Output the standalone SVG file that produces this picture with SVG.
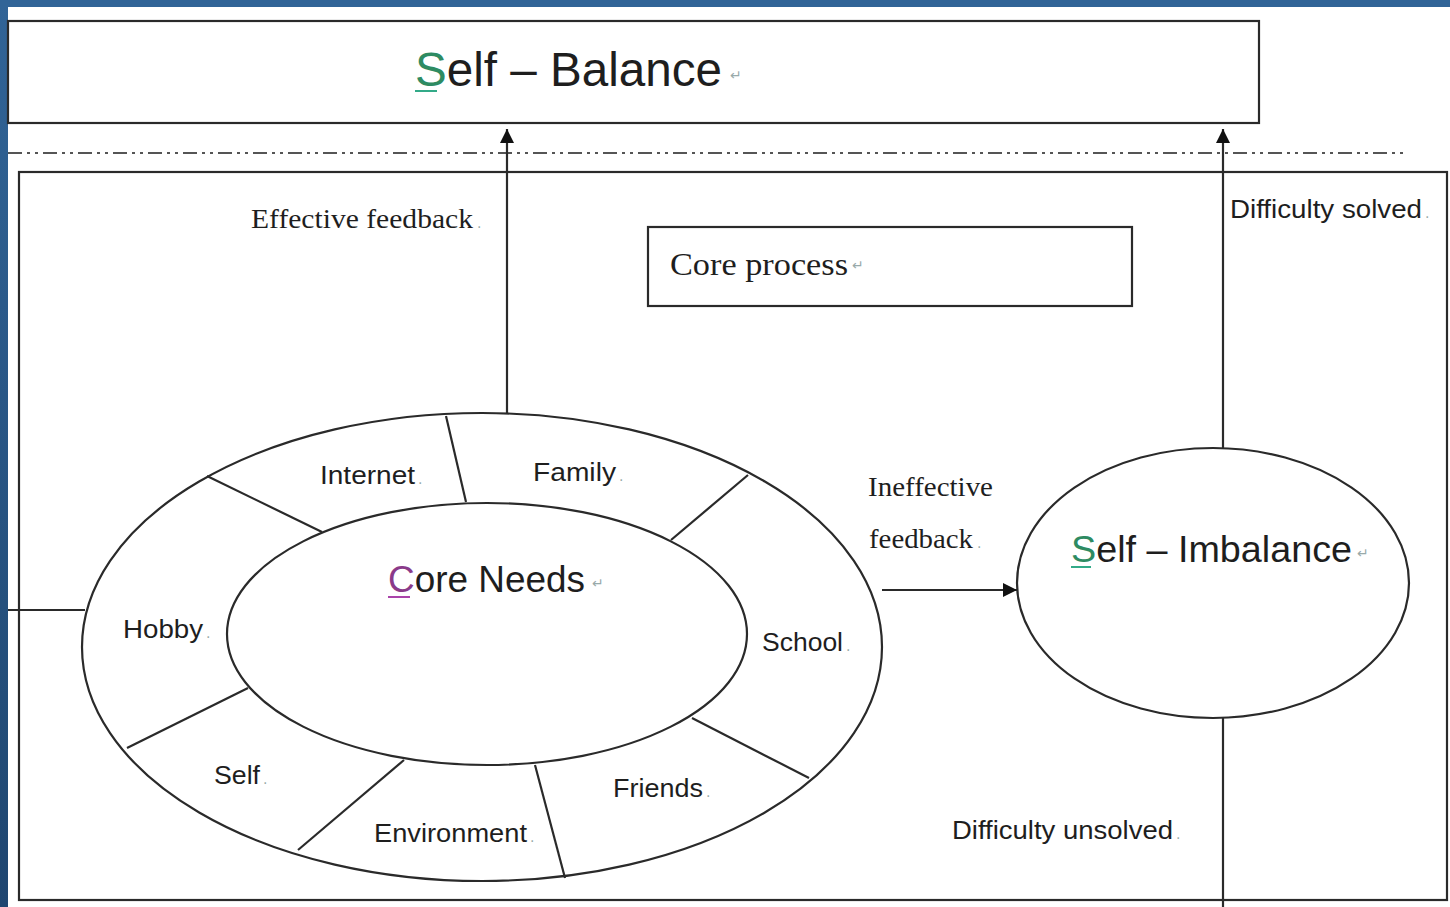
<svg xmlns="http://www.w3.org/2000/svg" width="1450" height="907" viewBox="0 0 1450 907">
<defs>
<linearGradient id="bg" x1="0" y1="0" x2="0" y2="1">
<stop offset="0" stop-color="#316497"/>
<stop offset="1" stop-color="#1f4670"/>
</linearGradient>
<marker id="ah" viewBox="0 0 10 10" refX="10" refY="5" markerWidth="14" markerHeight="14" markerUnits="userSpaceOnUse" orient="auto">
<path d="M0,0 L10,5 L0,10 z" fill="#111"/>
</marker>
<style>
.ln{fill:none;stroke:#2a2a2a;stroke-width:2.2}
.sh{fill:#fff;stroke:#2a2a2a;stroke-width:2.2}
.sans{font-family:"Liberation Sans","DejaVu Sans",sans-serif;fill:#1e1e1e}
.serif{font-family:"Liberation Serif","DejaVu Serif",serif;fill:#1e1e1e}
.mk{font-family:"DejaVu Sans",sans-serif;fill:#9aa;font-size:14px}
.lab{font-size:26px}
</style>
</defs>
<rect x="0" y="0" width="1450" height="907" fill="url(#bg)"/>
<rect x="0" y="0" width="1450" height="7" fill="#316497"/>
<rect x="8" y="7" width="1442" height="900" fill="#fff"/>

<g id="self-balance">
<rect class="sh" x="8" y="21" width="1251" height="102"/>
<text class="sans" x="415" y="86" font-size="47.5" textLength="307" lengthAdjust="spacingAndGlyphs"><tspan fill="#2e8b62">S</tspan>elf – Balance</text>
<rect x="415" y="90" width="22" height="2" fill="#3a8"/>
<text class="mk" x="730" y="80">↵</text>
</g>

<g id="divider">
<line x1="8" y1="153" x2="1405" y2="153" stroke="#555" stroke-width="2" stroke-dasharray="14 5 3 5 3 5"/>
</g>

<g id="core-process-frame">
<rect class="ln" x="19" y="172" width="1428" height="728"/>
</g>

<g id="core-process">
<rect class="sh" x="648" y="227" width="484" height="79"/>
<text class="serif" x="670" y="275" font-size="32" textLength="178" lengthAdjust="spacingAndGlyphs">Core process</text>
<text class="mk" x="852" y="270">↵</text>
</g>

<g id="core-needs">
<ellipse class="sh" cx="482" cy="647" rx="400" ry="234"/>
<ellipse class="sh" cx="487" cy="634" rx="260" ry="131"/>
<line class="ln" x1="446" y1="416" x2="466" y2="502"/>
<line class="ln" x1="748" y1="475" x2="671" y2="540"/>
<line class="ln" x1="692" y1="718" x2="809" y2="778"/>
<line class="ln" x1="535" y1="765" x2="565" y2="878"/>
<line class="ln" x1="404" y1="760" x2="298" y2="850"/>
<line class="ln" x1="248" y1="688" x2="127" y2="748"/>
<line class="ln" x1="207" y1="476" x2="322" y2="532"/>
<text class="sans" x="388" y="592" font-size="37" textLength="197" lengthAdjust="spacingAndGlyphs"><tspan fill="#8a3a8a">C</tspan>ore Needs</text>
<rect x="388" y="596" width="22" height="2" fill="#a4a"/>
<text class="mk" x="592" y="588">↵</text>
<g class="sans lab">
<text x="320" y="484" textLength="95" lengthAdjust="spacingAndGlyphs">Internet</text>
<text x="533" y="481" textLength="83" lengthAdjust="spacingAndGlyphs">Family</text>
<text x="123" y="638" textLength="80" lengthAdjust="spacingAndGlyphs">Hobby</text>
<text x="762" y="651" textLength="81" lengthAdjust="spacingAndGlyphs">School</text>
<text x="214" y="784" textLength="46" lengthAdjust="spacingAndGlyphs">Self</text>
<text x="613" y="797" textLength="90" lengthAdjust="spacingAndGlyphs">Friends</text>
<text x="374" y="842" textLength="153" lengthAdjust="spacingAndGlyphs">Environment</text>
</g>
<g class="mk" font-size="10">
<text x="418" y="484">.</text>
<text x="619" y="481">.</text>
<text x="206" y="638">.</text>
<text x="846" y="651">.</text>
<text x="263" y="784">.</text>
<text x="706" y="797">.</text>
<text x="530" y="842">.</text>
</g>
</g>

<g id="self-imbalance">
<ellipse class="sh" cx="1213" cy="583" rx="196" ry="135"/>
<text class="sans" x="1071" y="562" font-size="37.5" textLength="281" lengthAdjust="spacingAndGlyphs"><tspan fill="#2e8b62">S</tspan>elf – Imbalance</text>
<rect x="1071" y="566" width="20" height="2" fill="#3a8"/>
<text class="mk" x="1357" y="558">↵</text>
</g>

<g id="connectors">
<line class="ln" x1="8" y1="610" x2="85" y2="610"/>
<line class="ln" x1="507" y1="413" x2="507" y2="129" marker-end="url(#ah)"/>
<line class="ln" x1="1223" y1="448" x2="1223" y2="129" marker-end="url(#ah)"/>
<line class="ln" x1="1223" y1="718" x2="1223" y2="907"/>
<line class="ln" x1="882" y1="590" x2="1017" y2="590" marker-end="url(#ah)"/>
</g>

<g id="labels">
<text class="serif" x="251" y="228" font-size="27" textLength="222" lengthAdjust="spacingAndGlyphs">Effective  feedback</text>
<text class="mk" x="477" y="228" font-size="10">.</text>
<text class="serif" x="868" y="496" font-size="27" textLength="125" lengthAdjust="spacingAndGlyphs">Ineffective</text>
<text class="serif" x="869" y="548" font-size="27" textLength="104" lengthAdjust="spacingAndGlyphs">feedback</text>
<text class="mk" x="977" y="548" font-size="10">.</text>
<text class="sans" x="1230" y="218" font-size="25" textLength="192" lengthAdjust="spacingAndGlyphs">Difficulty solved</text>
<text class="mk" x="1425" y="218" font-size="10">.</text>
<text class="sans" x="952" y="839" font-size="25" textLength="221" lengthAdjust="spacingAndGlyphs">Difficulty unsolved</text>
<text class="mk" x="1176" y="839" font-size="10">.</text>
</g>
</svg>
